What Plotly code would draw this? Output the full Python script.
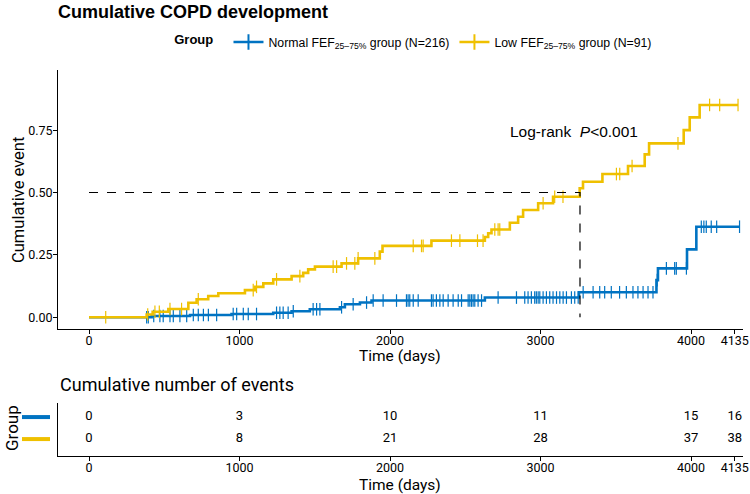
import numpy as np
import plotly.graph_objects as go

# ---------------- data ----------------
normal_t = [0, 416, 671, 947, 1224, 1346, 1467, 1667, 1700, 1800, 1877, 2630, 3255, 3770, 3780, 3973, 4035, 4322]
normal_v = [0, 0.005, 0.009, 0.013, 0.018, 0.024, 0.032, 0.040, 0.052, 0.059, 0.067, 0.079, 0.100, 0.149, 0.196, 0.272, 0.363, 0.363]

low_t = [0, 383, 423, 527, 660, 715, 792, 859, 1036, 1102, 1158, 1224, 1346, 1423, 1456, 1501, 1678, 1788,
         1932, 1950, 2275, 2630, 2652, 2674, 2796, 2851, 2884, 2984, 3083, 3260, 3282, 3411, 3581, 3692, 3721,
         3951, 3991, 4057, 4312]
low_v = [0, 0.011, 0.022, 0.033, 0.058, 0.072, 0.085, 0.096, 0.109, 0.122, 0.136, 0.152, 0.165, 0.178, 0.192,
         0.203, 0.216, 0.236, 0.263, 0.286, 0.307, 0.322, 0.337, 0.352, 0.379, 0.403, 0.430, 0.457, 0.483, 0.517,
         0.543, 0.574, 0.606, 0.653, 0.697, 0.750, 0.801, 0.851, 0.851]

normal_censor = [383, 394, 430, 471, 493, 538, 560, 604, 649, 693, 726, 760, 793, 848, 958, 981, 1025, 1058, 1113,
                 1246, 1268, 1290, 1323, 1357, 1489, 1512, 1534, 1678, 1755, 1844, 1888, 1954, 2043, 2109, 2120,
                 2131, 2154, 2187, 2275, 2286, 2308, 2331, 2353, 2386, 2419, 2453, 2475, 2519, 2530, 2541, 2552,
                 2563, 2585, 2608, 2718, 2840, 2895, 2917, 2939, 2961, 2972, 2984, 2995, 3017, 3039, 3061, 3083,
                 3106, 3128, 3150, 3172, 3205, 3227, 3250, 3283, 3349, 3393, 3426, 3470, 3525, 3570, 3614, 3647,
                 3681, 3714, 3747, 3775, 3836, 3891, 3902, 3969, 4068, 4085, 4101, 4134, 4170, 4322]
low_censor = [111, 390, 438, 467, 538, 615, 726, 1091, 1113, 1246, 1401, 1622, 1645, 1711, 1766, 1788, 1899,
              2154, 2209, 2220, 2408, 2464, 2581, 2618, 2696, 2718, 2729, 3017, 3094, 3149, 3504, 3526, 3608,
              3913, 4123, 4190, 4312]

tick_vals = [0, 1000, 2000, 3000, 4000, 4290]
tick_text = ["0", "1000", "2000", "3000", "4000", "4135"]
y_ticks = [0, 0.25, 0.50, 0.75]
y_tick_text = ["0.00", "0.25", "0.50", "0.75"]

normal_events = [0, 3, 10, 11, 15, 16]
low_events = [0, 8, 21, 28, 37, 38]

median_time = 3262
median_level = 0.5

groups = ["Normal FEF<sub>25–75%</sub> group (N=216)", "Low FEF<sub>25–75%</sub> group (N=91)"]
BLUE = "#0073C2"
YELLOW = "#EFC000"

AX_FONT = "Roboto, Liberation Sans, sans-serif"
TXT_FONT = "Liberation Sans, Arial, sans-serif"


def step_at(ts, vs, c):
    ts = np.asarray(ts)
    vs = np.asarray(vs)
    idx = np.searchsorted(ts, np.asarray(c), side="right") - 1
    return vs[idx]


fig = go.Figure()

series = [
    (groups[0], normal_t, normal_v, normal_censor, BLUE),
    (groups[1], low_t, low_v, low_censor, YELLOW),
]
for name, t, v, c, col in series:
    fig.add_trace(go.Scatter(x=t, y=v, mode="lines", line=dict(color=col, width=2.6, shape="hv"),
                             showlegend=False, hoverinfo="skip"))
    fig.add_trace(go.Scatter(x=c, y=step_at(t, v, c), mode="markers",
                             marker=dict(symbol="line-ns", size=9, line=dict(color=col, width=1.2)),
                             showlegend=False, hoverinfo="skip"))
    fig.add_trace(go.Scatter(x=[None], y=[None], mode="lines+markers", name=name,
                             line=dict(color=col, width=2.6),
                             marker=dict(symbol="line-ns", size=11, line=dict(color=col, width=2))))

# median lines
fig.add_trace(go.Scatter(x=[0, median_time, median_time], y=[median_level, median_level, 0], mode="lines",
                         line=dict(color="black", dash="dash", width=1.2), showlegend=False, hoverinfo="skip"))

# risk table
for row, vals, col in [(2, normal_events, BLUE), (1, low_events, YELLOW)]:
    fig.add_trace(go.Scatter(x=tick_vals, y=[row] * len(tick_vals), mode="text",
                             text=[str(v) for v in vals], textposition="middle center",
                             textfont=dict(family=AX_FONT, size=13, color="black"), cliponaxis=False,
                             xaxis="x2", yaxis="y2", showlegend=False, hoverinfo="skip"))
    fig.add_shape(type="line", xref="paper", yref="y2", x0=22 / 750, x1=50 / 750, y0=row, y1=row,
                  line=dict(color=col, width=4))

W, H = 750, 494
x_dom = [58 / W, 743 / W]
xr = [-206, 4345]

common_x = dict(range=xr, tickvals=tick_vals, ticktext=tick_text, ticks="outside", ticklen=4,
                tickcolor="black", showline=True, linecolor="black", linewidth=1, showgrid=False,
                zeroline=False, tickfont=dict(family=AX_FONT, size=12.5, color="black"), automargin=False,
                ticklabeloverflow="allow", ticklabelstandoff=-4, domain=x_dom)


def paper_y(px):
    return 1 - px / H


fig.update_layout(
    width=W, height=H,
    margin=dict(l=0, r=0, t=0, b=0),
    plot_bgcolor="white", paper_bgcolor="white",
    title=dict(text="<b>Cumulative COPD development</b>", x=58 / W, xanchor="left", y=paper_y(12),
               yanchor="middle", font=dict(family=TXT_FONT, size=18, color="black")),
    legend=dict(orientation="h", x=0.553, xanchor="center", y=paper_y(42), yanchor="middle",
                title=dict(text="<b>Group</b>  ", font=dict(family=TXT_FONT, size=13, color="black")),
                font=dict(family=TXT_FONT, size=12.3, color="black"), itemwidth=30, bgcolor="rgba(0,0,0,0)"),
    xaxis=dict(**common_x, anchor="y"),
    yaxis=dict(domain=[paper_y(329), paper_y(70)], range=[-0.047, 0.991], tickvals=y_ticks, ticktext=y_tick_text,
               ticks="outside", ticklen=4, tickcolor="black", showline=True, linecolor="black", linewidth=1,
               showgrid=False, zeroline=False, automargin=False, ticklabelstandoff=-2,
               tickfont=dict(family=AX_FONT, size=12.5, color="black")),
    xaxis2=dict(**common_x, anchor="y2"),
    yaxis2=dict(domain=[paper_y(456), paper_y(403)], range=[0.23, 2.64], showticklabels=False, ticks="",
                showline=True, linecolor="black", linewidth=1, showgrid=False, zeroline=False, automargin=False),
    annotations=[
        dict(text="Log-rank  <i>P</i>&lt;0.001", x=3220, y=0.746, xref="x", yref="y", showarrow=False,
             font=dict(family=TXT_FONT, size=15.5, color="black"), xanchor="center", yanchor="middle"),
        dict(text="Cumulative event", x=18 / W, y=paper_y(200), xref="paper", yref="paper", showarrow=False,
             textangle=-90, xanchor="center", yanchor="middle",
             font=dict(family=AX_FONT, size=16.5, color="black")),
        dict(text="Time (days)", x=400 / W, y=paper_y(356), xref="paper", yref="paper", showarrow=False,
             xanchor="center", yanchor="middle", font=dict(family=AX_FONT, size=15.5, color="black")),
        dict(text="Cumulative number of events", x=58 / W, y=paper_y(384), xref="paper", yref="paper",
             showarrow=False, xanchor="left", yanchor="middle",
             font=dict(family=AX_FONT, size=18, color="black")),
        dict(text="Group", x=12 / W, y=paper_y(428), xref="paper", yref="paper", showarrow=False,
             textangle=-90, xanchor="center", yanchor="middle",
             font=dict(family=AX_FONT, size=17, color="black")),
        dict(text="Time (days)", x=400 / W, y=paper_y(485), xref="paper", yref="paper", showarrow=False,
             xanchor="center", yanchor="middle", font=dict(family=AX_FONT, size=15.5, color="black")),
    ],
)

fig.write_html("out.html", config={"displayModeBar": False},
               post_script="document.body.style.margin='0';document.body.style.overflow='hidden';")
